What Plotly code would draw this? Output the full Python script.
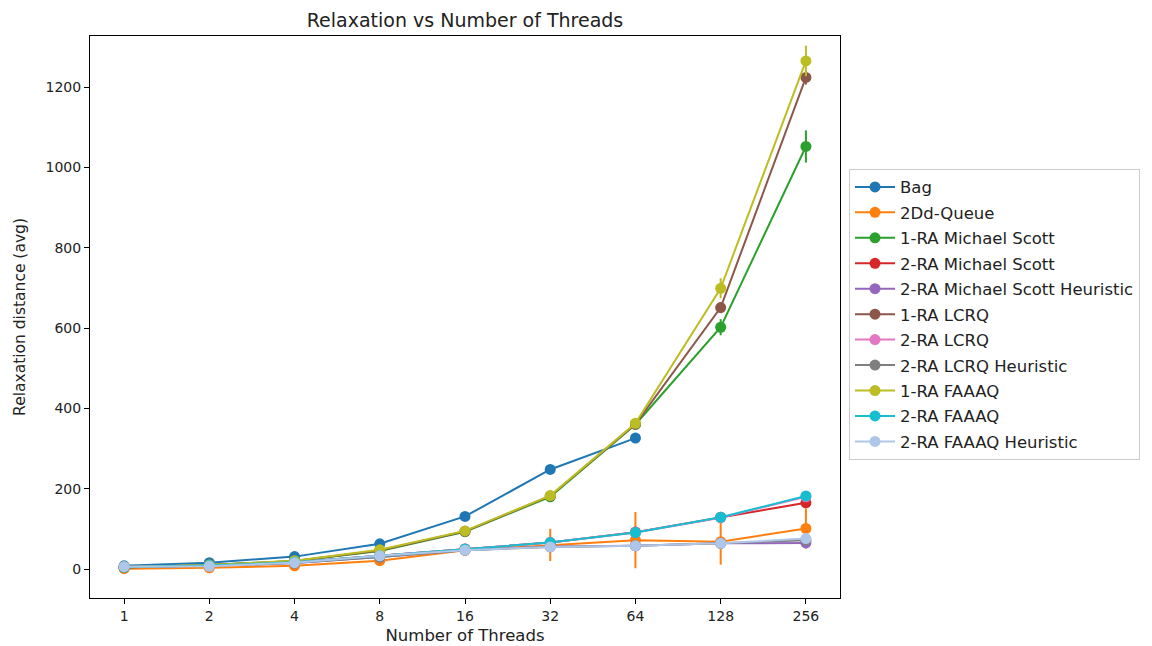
import plotly.graph_objects as go

threads = ["1", "2", "4", "8", "16", "32", "64", "128", "256"]

names = ["Bag", "2Dd-Queue", "1-RA Michael Scott", "2-RA Michael Scott",
         "2-RA Michael Scott Heuristic", "1-RA LCRQ", "2-RA LCRQ",
         "2-RA LCRQ Heuristic", "1-RA FAAAQ", "2-RA FAAAQ", "2-RA FAAAQ Heuristic"]

colors = ["#1f77b4", "#ff7f0e", "#2ca02c", "#d62728", "#9467bd", "#8c564b",
          "#e377c2", "#7f7f7f", "#bcbd22", "#17becf", "#aec7e8"]

bag = [8, 16, 31, 63, 131, 248, 326]
bag_err = [1, 1, 2, 3, 4, 5, 6]
dd_queue = [1, 3, 8, 21, 47, 60, 72, 68, 101]
dd_queue_err = [1, 2, 3, 5, 6, 40, 70, 57, 50]
ra1_ms = [4, 10, 20, 45, 93, 180, 360, 602, 1052]
ra1_ms_err = [1, 1, 2, 3, 4, 6, 10, 20, 40]
ra2_ms = [5, 9, 17, 33, 50, 66, 92, 129, 165]
ra2_ms_err = [1, 1, 1, 2, 2, 3, 4, 5, 8]
ra2_ms_h = [5, 8, 15, 30, 47, 56, 58, 64, 65]
ra2_ms_h_err = [1, 1, 1, 2, 2, 3, 3, 4, 5]
ra1_lcrq = [4, 10, 20, 46, 94, 182, 361, 651, 1224]
ra1_lcrq_err = [1, 1, 2, 3, 4, 6, 10, 14, 18]
ra2_lcrq = [5, 9, 17, 33, 50, 66, 91, 128, 180]
ra2_lcrq_err = [1, 1, 1, 2, 2, 3, 4, 5, 7]
ra2_lcrq_h = [5, 8, 15, 30, 47, 55, 58, 64, 72]
ra2_lcrq_h_err = [1, 1, 1, 2, 2, 3, 3, 4, 5]
ra1_faaaq = [5, 10, 21, 48, 95, 183, 363, 699, 1265]
ra1_faaaq_err = [1, 1, 2, 3, 4, 6, 10, 25, 38]
ra2_faaaq = [5, 9, 17, 33, 50, 66, 91, 129, 182]
ra2_faaaq_err = [1, 1, 1, 2, 2, 3, 4, 5, 6]
ra2_faaaq_h = [6, 7, 16, 33, 47, 55, 58, 64, 76]
ra2_faaaq_h_err = [1, 1, 1, 2, 2, 3, 3, 4, 5]

series = [(bag, bag_err), (dd_queue, dd_queue_err), (ra1_ms, ra1_ms_err),
          (ra2_ms, ra2_ms_err), (ra2_ms_h, ra2_ms_h_err), (ra1_lcrq, ra1_lcrq_err),
          (ra2_lcrq, ra2_lcrq_err), (ra2_lcrq_h, ra2_lcrq_h_err),
          (ra1_faaaq, ra1_faaaq_err), (ra2_faaaq, ra2_faaaq_err),
          (ra2_faaaq_h, ra2_faaaq_h_err)]

FONT = "DejaVu Sans"
W, H = 1144, 638
L, T, PW, PH = 82, 28, 750, 562

fig = go.Figure()
for i, ((vals, errs), name, col) in enumerate(zip(series, names, colors)):
    fig.add_trace(go.Scatter(
        x=threads[:len(vals)], y=vals, name=name, mode="lines+markers",
        line=dict(color=col, width=2), marker=dict(color=col, size=11),
        error_y=dict(type="data", array=errs, visible=True, color=col,
                     thickness=2, width=0),
        legendgroup=name,
    ))

fig.update_layout(
    width=W, height=H,
    paper_bgcolor="white", plot_bgcolor="white",
    margin=dict(l=L, r=W - L - PW, t=T, b=H - T - PH, autoexpand=False),
    font=dict(family=FONT, size=14, color="#222"),
    title=dict(text="Relaxation vs Number of Threads", x=(L + PW / 2) / W,
               xanchor="center", y=1 - 12 / H, yanchor="middle",
               font=dict(size=19, color="#222"), automargin=False),
    showlegend=True,
    legend=dict(x=1.012, xanchor="left", y=0.505, yanchor="middle",
                bordercolor="#cccccc", borderwidth=1, bgcolor="white",
                font=dict(size=16.5, color="#222"), tracegroupgap=1,
                itemwidth=40),
)
fig.update_xaxes(type="category", range=[-0.4, 8.4], showline=True, mirror=True,
                 linecolor="black", linewidth=1, ticks="outside", ticklen=5,
                 tickcolor="black", showgrid=False, zeroline=False, automargin=False,
                 title=dict(text="Number of Threads", standoff=6,
                            font=dict(size=16.5, color="#222")))
fig.update_yaxes(range=[-72, 1327], showline=True, mirror=True,
                 linecolor="black", linewidth=1, ticks="outside", ticklen=5,
                 tickcolor="black", showgrid=False, zeroline=False, automargin=False,
                 tickvals=[0, 200, 400, 600, 800, 1000, 1200],
                 title=dict(text="Relaxation distance (avg)", standoff=16,
                            font=dict(size=15.5, color="#222")))

fig.write_html("out.html")
